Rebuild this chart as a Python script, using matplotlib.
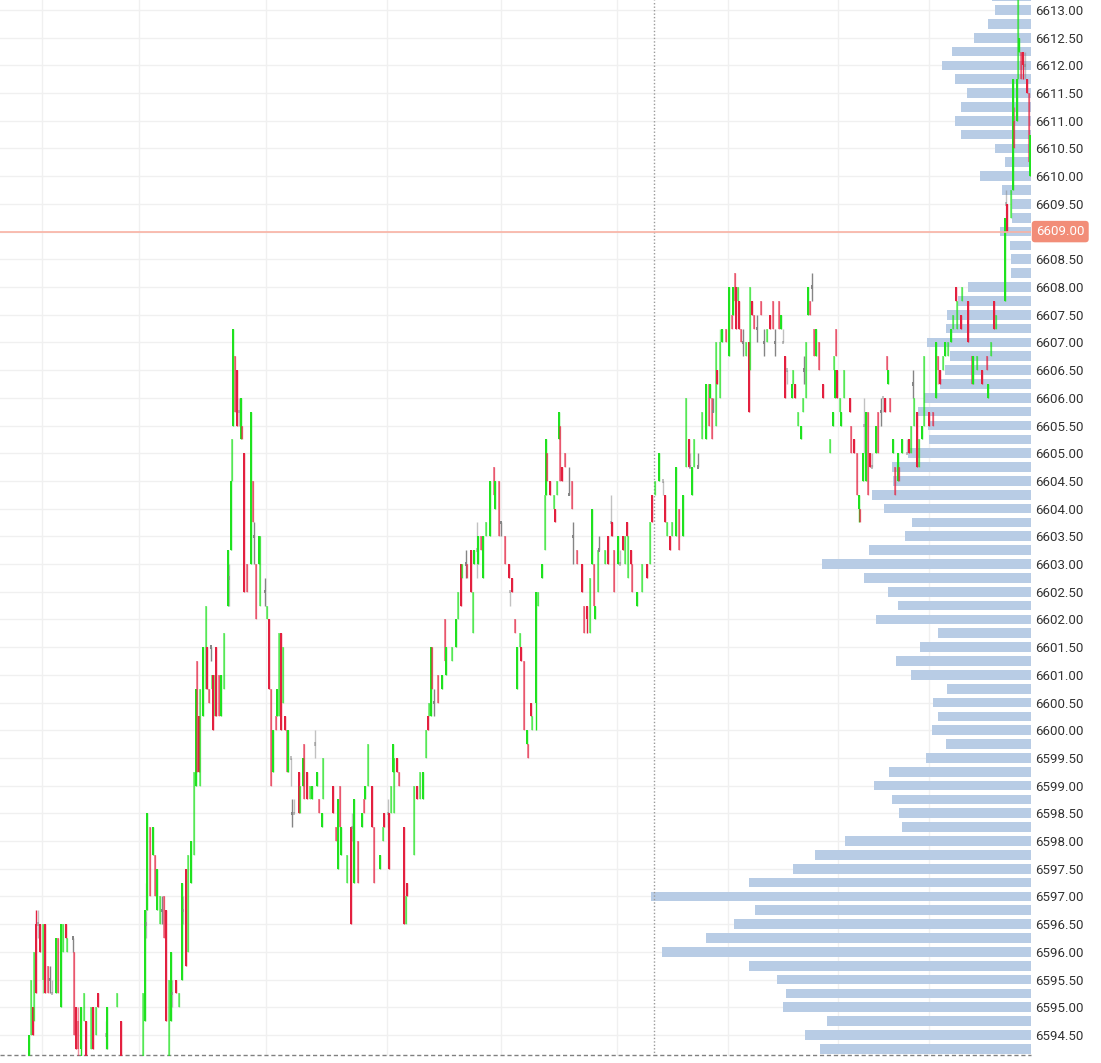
import numpy as np
import matplotlib
matplotlib.use("Agg")
import matplotlib.pyplot as plt
from matplotlib.colors import to_rgba
from matplotlib.transforms import blended_transform_factory

plt.rcParams['font.family'] = ['Roboto', 'DejaVu Sans']

# bar time (session ticks) and OHLC of each bar
bar_t = [
    29, 31, 33, 34, 36, 38, 40, 43, 45, 48,
    50, 52, 56, 58, 61, 63, 66, 67, 73, 74,
    76, 78, 81, 84, 86, 91, 93, 96, 98, 106,
    107, 117, 121, 143, 145, 146, 147, 150, 153, 155,
    157, 160, 162, 164, 166, 169, 171, 172, 176, 179,
    182, 183, 186, 188, 191, 194, 196, 197, 199, 200,
    203, 206, 207, 209, 211, 212, 213, 215, 216, 219,
    221, 224, 228, 229, 231, 232, 233, 235, 237, 239,
    241, 242, 244, 247, 251, 253, 254, 256, 259, 260,
    265, 267, 269, 271, 273, 276, 277, 279, 281, 283,
    285, 287, 288, 291, 292, 294, 299, 300, 303, 304,
    307, 310, 312, 315, 317, 319, 322, 323, 333, 336,
    338, 340, 341, 347, 351, 352, 354, 358, 362, 364,
    365, 368, 372, 374, 380, 383, 384, 388, 389, 391,
    393, 394, 397, 399, 404, 406, 407, 414, 417, 420,
    423, 426, 428, 429, 431, 432, 434, 438, 442, 445,
    446, 452, 456, 458, 461, 462, 466, 467, 471, 473,
    474, 477, 478, 481, 483, 486, 490, 494, 495, 499,
    501, 505, 509, 510, 512, 515, 517, 520, 521, 524,
    527, 528, 531, 532, 536, 538, 542, 545, 546, 547,
    550, 554, 555, 557, 559, 560, 562, 565, 569, 572,
    573, 577, 582, 584, 587, 590, 592, 594, 595, 598,
    599, 605, 608, 611, 612, 614, 618, 620, 623, 625,
    627, 628, 631, 632, 637, 642, 647, 650, 652, 655,
    659, 663, 665, 667, 670, 672, 676, 679, 683, 686,
    689, 690, 692, 694, 698, 702, 706, 709, 710, 712,
    713, 716, 717, 720, 722, 726, 729, 732, 733, 735,
    736, 738, 739, 741, 743, 746, 749, 750, 752, 754,
    757, 761, 764, 767, 770, 773, 775, 779, 781, 783,
    785, 787, 792, 793, 795, 798, 801, 803, 804, 806,
    808, 810, 812, 814, 816, 819, 823, 830, 833, 834,
    835, 836, 837, 840, 841, 844, 850, 851, 854, 857,
    859, 860, 863, 864, 866, 868, 870, 872, 876, 878,
    881, 883, 885, 887, 888, 890, 893, 895, 898, 899,
    902, 907, 909, 911, 913, 914, 917, 919, 922, 924,
    929, 933, 936, 938, 940, 943, 945, 948, 951, 953,
    956, 957, 961, 962, 968, 972, 973, 977, 982, 987,
    988, 991, 994, 996, 1005, 1006, 1007, 1011, 1013, 1014,
    1017, 1018, 1019, 1021, 1023, 1025, 1027, 1029, 1030]

bar_open = [
    6594.00, 6594.50, 6595.00, 6594.75, 6596.50, 6596.50, 6596.50, 6595.50, 6596.50, 6595.75,
    6595.50, 6595.25, 6595.25, 6596.25, 6595.00, 6596.00, 6596.50, 6596.00, 6596.25, 6596.00,
    6595.00, 6594.75, 6594.25, 6594.75, 6594.75, 6594.25, 6595.00, 6594.50, 6595.25, 6594.50,
    6594.25, 6595.00, 6594.75, 6594.00, 6594.75, 6596.50, 6596.75, 6598.25, 6597.75, 6597.75,
    6596.75, 6596.50, 6596.75, 6597.00, 6596.75, 6594.00, 6594.75, 6595.25, 6595.50, 6595.00,
    6595.50, 6596.75, 6597.50, 6596.00, 6597.25, 6597.75, 6599.00, 6601.25, 6600.25, 6599.00,
    6600.25, 6600.75, 6601.50, 6600.75, 6601.50, 6600.75, 6601.00, 6600.25, 6601.50, 6601.00,
    6600.25, 6600.75, 6602.25, 6602.75, 6603.25, 6604.50, 6605.50, 6606.75, 6606.50, 6605.75,
    6605.25, 6605.50, 6605.00, 6603.00, 6603.00, 6604.50, 6603.50, 6603.00, 6603.00, 6602.25,
    6602.50, 6602.00, 6602.00, 6600.75, 6599.25, 6600.25, 6600.25, 6600.25, 6601.75, 6600.50,
    6600.25, 6600.00, 6599.25, 6599.50, 6598.50, 6598.50, 6599.25, 6598.50, 6599.00, 6599.75,
    6599.25, 6598.75, 6598.75, 6599.75, 6599.00, 6598.75, 6598.25, 6598.75, 6599.00, 6598.25,
    6597.50, 6599.00, 6597.75, 6597.25, 6598.25, 6598.25, 6597.25, 6598.00, 6598.25, 6598.75,
    6598.75, 6599.00, 6599.00, 6598.25, 6597.50, 6598.00, 6598.50, 6598.50, 6598.50, 6598.50,
    6599.25, 6598.50, 6599.50, 6599.25, 6598.25, 6596.50, 6597.25, 6597.75, 6599.00, 6598.75,
    6598.75, 6599.50, 6600.25, 6600.25, 6600.25, 6601.50, 6600.50, 6601.00, 6600.75, 6602.00,
    6601.00, 6601.25, 6601.50, 6602.00, 6603.00, 6602.75, 6603.00, 6603.00, 6603.25, 6601.75,
    6603.00, 6603.25, 6603.00, 6603.50, 6602.75, 6603.50, 6603.50, 6604.75, 6604.00, 6604.50,
    6603.75, 6603.50, 6603.00, 6602.50, 6602.75, 6602.00, 6600.75, 6601.50, 6601.50, 6601.25,
    6599.75, 6599.75, 6600.50, 6600.00, 6600.50, 6602.25, 6602.75, 6603.25, 6604.25, 6605.00,
    6604.50, 6604.00, 6604.00, 6604.25, 6605.25, 6605.50, 6604.75, 6605.00, 6604.25, 6604.50,
    6603.50, 6603.25, 6603.00, 6602.25, 6602.25, 6601.75, 6603.00, 6603.00, 6602.00, 6602.50,
    6603.25, 6603.00, 6603.50, 6603.75, 6603.75, 6603.25, 6603.00, 6603.00, 6603.50, 6603.00,
    6603.75, 6602.75, 6603.25, 6603.00, 6602.25, 6602.50, 6603.00, 6603.00, 6604.25, 6604.25,
    6604.50, 6604.50, 6604.25, 6603.50, 6603.50, 6603.50, 6603.50, 6604.00, 6603.50, 6604.75,
    6605.25, 6604.75, 6604.25, 6604.75, 6604.75, 6605.25, 6605.25, 6606.25, 6606.00, 6606.00,
    6605.75, 6605.50, 6606.50, 6606.00, 6607.00, 6607.25, 6606.75, 6607.50, 6607.50, 6608.25,
    6608.00, 6607.75, 6607.75, 6607.25, 6607.00, 6606.75, 6607.00, 6606.50, 6607.75, 6607.50,
    6607.25, 6607.75, 6607.00, 6607.00, 6607.50, 6607.75, 6607.00, 6607.75, 6607.25, 6607.00,
    6606.75, 6606.50, 6606.00, 6606.25, 6606.25, 6605.50, 6605.25, 6605.75, 6606.50, 6606.00,
    6607.50, 6607.75, 6608.00, 6607.25, 6606.75, 6607.00, 6606.25, 6605.00, 6605.50, 6606.50,
    6606.00, 6607.25, 6606.50, 6605.75, 6605.50, 6606.00, 6606.00, 6605.50, 6605.25, 6605.00,
    6604.00, 6604.00, 6604.50, 6605.50, 6604.50, 6605.75, 6605.00, 6604.75, 6605.00, 6605.75,
    6605.75, 6606.00, 6606.00, 6606.75, 6606.25, 6606.00, 6605.00, 6604.75, 6604.50, 6604.75,
    6605.00, 6605.00, 6605.25, 6605.00, 6606.25, 6605.50, 6605.75, 6604.75, 6605.25, 6605.50,
    6605.75, 6605.75, 6606.00, 6606.75, 6606.50, 6606.50, 6606.75, 6606.75, 6607.00, 6607.25,
    6608.00, 6607.25, 6607.50, 6607.75, 6607.75, 6606.75, 6606.25, 6606.50, 6606.50, 6606.75,
    6606.00, 6606.75, 6607.75, 6607.25, 6607.75, 6609.50, 6609.50, 6609.25, 6609.75, 6611.00,
    6611.00, 6611.75, 6612.25, 6612.25, 6612.25, 6612.00, 6611.75, 6611.50, 6610.00]

bar_high = [
    6594.50, 6595.50, 6595.00, 6596.00, 6596.75, 6596.75, 6596.50, 6596.50, 6596.50, 6595.75,
    6595.75, 6595.50, 6596.25, 6596.25, 6596.50, 6596.50, 6596.50, 6596.25, 6596.25, 6596.00,
    6595.00, 6595.00, 6595.00, 6595.25, 6594.75, 6595.00, 6595.00, 6595.00, 6595.25, 6594.75,
    6595.00, 6595.25, 6594.75, 6595.25, 6596.75, 6597.25, 6598.50, 6598.25, 6598.25, 6597.75,
    6597.50, 6597.00, 6597.00, 6597.00, 6596.75, 6595.50, 6596.00, 6595.50, 6595.50, 6595.25,
    6597.25, 6597.00, 6597.50, 6597.75, 6598.00, 6599.25, 6600.75, 6601.25, 6600.25, 6600.75,
    6601.50, 6602.25, 6601.50, 6600.75, 6601.50, 6601.00, 6601.00, 6601.00, 6601.50, 6601.00,
    6601.00, 6601.75, 6603.25, 6603.00, 6604.50, 6605.25, 6607.25, 6606.75, 6606.50, 6606.00,
    6606.00, 6605.50, 6605.00, 6603.00, 6605.75, 6604.50, 6603.75, 6603.00, 6603.50, 6603.50,
    6602.75, 6602.25, 6602.00, 6600.75, 6600.00, 6600.25, 6600.75, 6601.75, 6601.75, 6601.50,
    6600.25, 6600.00, 6600.00, 6599.50, 6598.75, 6598.75, 6599.25, 6599.00, 6599.50, 6599.75,
    6599.25, 6599.00, 6599.00, 6600.00, 6599.25, 6598.75, 6598.50, 6599.50, 6599.00, 6598.25,
    6598.75, 6599.00, 6598.25, 6597.75, 6598.25, 6598.50, 6598.75, 6598.00, 6598.50, 6598.75,
    6599.00, 6599.75, 6599.00, 6598.25, 6597.75, 6598.25, 6598.50, 6598.75, 6598.50, 6599.00,
    6599.75, 6599.50, 6599.50, 6599.25, 6598.25, 6597.00, 6597.25, 6599.00, 6599.00, 6599.25,
    6599.25, 6600.00, 6600.25, 6600.50, 6601.50, 6601.50, 6600.75, 6601.00, 6601.00, 6602.00,
    6601.50, 6601.50, 6602.00, 6602.50, 6603.00, 6603.00, 6603.25, 6603.00, 6603.25, 6602.50,
    6603.25, 6603.75, 6603.50, 6603.50, 6603.50, 6603.75, 6604.50, 6604.75, 6604.50, 6604.50,
    6603.75, 6603.50, 6603.00, 6602.50, 6602.75, 6602.00, 6601.50, 6601.75, 6601.50, 6601.25,
    6600.00, 6599.75, 6600.50, 6600.25, 6602.50, 6602.50, 6603.00, 6604.25, 6605.25, 6605.00,
    6604.50, 6604.25, 6604.00, 6604.50, 6605.75, 6605.50, 6604.75, 6605.00, 6604.75, 6604.50,
    6603.75, 6603.25, 6603.00, 6602.25, 6602.25, 6602.75, 6604.00, 6603.00, 6602.25, 6603.25,
    6603.50, 6603.25, 6603.50, 6604.25, 6603.75, 6603.25, 6603.50, 6603.25, 6603.50, 6603.50,
    6603.75, 6603.50, 6603.25, 6603.00, 6602.50, 6603.00, 6603.00, 6603.75, 6604.25, 6604.50,
    6605.00, 6604.50, 6604.25, 6603.75, 6603.50, 6603.75, 6604.75, 6604.00, 6604.25, 6606.00,
    6605.25, 6605.00, 6604.75, 6605.25, 6605.00, 6605.75, 6606.25, 6606.25, 6606.25, 6606.00,
    6606.00, 6607.00, 6606.50, 6607.25, 6607.25, 6607.25, 6608.00, 6607.50, 6608.00, 6608.25,
    6608.00, 6608.00, 6607.75, 6607.25, 6607.25, 6607.00, 6607.00, 6608.00, 6607.75, 6607.50,
    6607.50, 6607.75, 6607.25, 6607.25, 6607.50, 6607.75, 6607.25, 6607.75, 6607.50, 6607.25,
    6606.75, 6606.50, 6606.25, 6606.50, 6606.25, 6605.75, 6605.50, 6606.00, 6606.75, 6607.00,
    6608.00, 6607.75, 6608.25, 6607.25, 6607.25, 6607.00, 6606.25, 6605.25, 6605.75, 6606.75,
    6606.50, 6607.25, 6606.50, 6606.00, 6605.75, 6606.50, 6606.00, 6605.50, 6605.25, 6605.00,
    6604.25, 6604.00, 6605.00, 6606.00, 6605.75, 6605.75, 6605.00, 6605.00, 6605.50, 6605.75,
    6606.00, 6606.00, 6606.00, 6606.75, 6606.50, 6606.00, 6605.25, 6604.75, 6605.00, 6604.75,
    6605.25, 6605.25, 6605.25, 6605.50, 6606.50, 6606.00, 6605.75, 6605.25, 6605.50, 6606.75,
    6605.75, 6605.75, 6607.00, 6606.75, 6606.50, 6606.75, 6607.00, 6607.00, 6607.25, 6607.50,
    6608.00, 6607.75, 6607.50, 6608.00, 6607.75, 6606.75, 6606.75, 6606.75, 6606.50, 6606.75,
    6606.25, 6607.00, 6607.75, 6607.50, 6609.25, 6609.75, 6609.50, 6609.75, 6611.75, 6611.25,
    6611.75, 6613.50, 6612.50, 6612.25, 6612.25, 6612.25, 6611.75, 6611.50, 6610.75]

bar_low = [
    6594.00, 6594.50, 6594.50, 6594.75, 6595.25, 6596.25, 6596.00, 6595.25, 6595.25, 6595.25,
    6595.25, 6595.25, 6595.25, 6595.25, 6595.00, 6596.00, 6596.25, 6596.00, 6596.00, 6594.50,
    6594.25, 6594.00, 6594.00, 6594.75, 6594.00, 6594.25, 6594.25, 6594.50, 6595.00, 6594.25,
    6594.25, 6595.00, 6594.00, 6594.00, 6594.75, 6596.25, 6596.75, 6597.00, 6597.75, 6597.00,
    6596.75, 6596.50, 6596.50, 6596.25, 6594.75, 6594.00, 6594.75, 6595.00, 6595.25, 6595.00,
    6595.50, 6596.50, 6595.75, 6596.00, 6597.25, 6597.75, 6599.00, 6599.25, 6599.25, 6599.00,
    6600.25, 6600.75, 6600.75, 6600.50, 6601.25, 6600.75, 6600.00, 6600.25, 6600.25, 6600.25,
    6600.25, 6600.75, 6602.25, 6602.25, 6603.25, 6604.50, 6605.50, 6605.75, 6605.50, 6605.50,
    6605.25, 6605.25, 6602.50, 6602.50, 6603.00, 6603.75, 6603.00, 6602.00, 6603.00, 6602.25,
    6602.25, 6602.00, 6600.75, 6599.00, 6599.25, 6600.00, 6600.25, 6600.25, 6600.00, 6600.50,
    6600.00, 6599.25, 6599.25, 6599.00, 6598.25, 6598.50, 6598.50, 6598.50, 6599.00, 6598.75,
    6598.75, 6598.75, 6598.75, 6599.50, 6599.00, 6598.50, 6598.25, 6598.75, 6598.50, 6598.00,
    6597.50, 6598.25, 6597.75, 6597.25, 6596.50, 6598.00, 6597.25, 6597.25, 6598.25, 6598.50,
    6598.75, 6599.00, 6598.25, 6597.25, 6597.50, 6598.00, 6598.25, 6598.25, 6597.50, 6598.50,
    6599.25, 6598.50, 6599.25, 6599.00, 6596.50, 6596.50, 6597.00, 6597.75, 6598.75, 6598.75,
    6598.75, 6599.50, 6600.00, 6600.25, 6600.25, 6600.75, 6600.25, 6600.50, 6600.75, 6601.25,
    6601.00, 6601.25, 6601.50, 6602.00, 6602.25, 6602.75, 6602.75, 6602.75, 6602.50, 6601.75,
    6603.00, 6602.75, 6603.00, 6603.25, 6602.75, 6603.50, 6603.50, 6604.25, 6604.00, 6603.50,
    6603.50, 6603.00, 6602.75, 6602.25, 6602.50, 6601.75, 6600.75, 6601.50, 6601.25, 6600.00,
    6599.75, 6599.50, 6600.25, 6600.00, 6600.00, 6602.25, 6602.75, 6603.25, 6604.25, 6604.50,
    6604.25, 6604.00, 6603.75, 6604.25, 6605.25, 6604.50, 6604.50, 6604.75, 6604.25, 6604.00,
    6603.00, 6603.00, 6602.50, 6601.75, 6601.75, 6601.75, 6603.00, 6602.25, 6602.00, 6602.50,
    6603.25, 6603.00, 6603.00, 6603.50, 6603.50, 6602.50, 6603.00, 6603.00, 6603.25, 6603.00,
    6603.50, 6602.75, 6603.00, 6602.50, 6602.25, 6602.50, 6602.75, 6603.00, 6603.75, 6604.25,
    6604.50, 6604.25, 6603.75, 6603.50, 6603.25, 6603.50, 6603.50, 6603.25, 6603.50, 6604.75,
    6604.75, 6604.75, 6604.25, 6604.75, 6604.75, 6605.25, 6605.25, 6605.50, 6606.00, 6605.25,
    6605.75, 6605.50, 6606.25, 6606.00, 6607.00, 6607.00, 6606.75, 6607.25, 6607.50, 6607.75,
    6607.25, 6607.75, 6607.25, 6607.00, 6606.75, 6606.75, 6605.75, 6606.50, 6607.50, 6607.25,
    6607.00, 6607.50, 6606.75, 6607.00, 6607.25, 6607.25, 6606.75, 6607.25, 6607.25, 6607.00,
    6606.00, 6606.25, 6606.00, 6606.25, 6606.00, 6605.50, 6605.25, 6605.75, 6606.25, 6606.00,
    6607.50, 6607.50, 6607.75, 6606.75, 6606.75, 6606.50, 6606.00, 6605.00, 6605.50, 6606.50,
    6606.00, 6606.75, 6606.00, 6605.75, 6605.50, 6606.00, 6605.75, 6605.00, 6605.00, 6604.25,
    6603.75, 6603.75, 6604.50, 6605.00, 6604.50, 6604.25, 6604.75, 6604.75, 6605.00, 6605.00,
    6605.50, 6605.75, 6605.75, 6606.50, 6606.25, 6605.75, 6605.00, 6604.25, 6604.50, 6604.50,
    6605.00, 6605.00, 6605.00, 6605.00, 6606.00, 6605.50, 6604.75, 6604.75, 6605.25, 6605.50,
    6605.50, 6605.50, 6606.00, 6606.25, 6606.25, 6606.50, 6606.75, 6606.75, 6607.00, 6607.25,
    6607.75, 6607.25, 6607.25, 6607.75, 6607.00, 6606.25, 6606.25, 6606.50, 6606.25, 6606.50,
    6606.00, 6606.75, 6607.25, 6607.25, 6607.75, 6609.25, 6609.00, 6609.25, 6609.75, 6610.50,
    6611.00, 6611.75, 6612.25, 6611.75, 6611.75, 6611.75, 6611.50, 6610.25, 6610.00]

bar_close = [
    6594.50, 6595.50, 6594.50, 6596.00, 6595.25, 6596.50, 6596.00, 6596.50, 6595.25, 6595.25,
    6595.50, 6595.25, 6596.25, 6595.25, 6596.50, 6596.50, 6596.25, 6596.25, 6596.25, 6594.50,
    6594.25, 6594.25, 6595.00, 6595.25, 6594.00, 6595.00, 6594.25, 6595.00, 6595.00, 6594.50,
    6595.00, 6595.25, 6594.00, 6595.25, 6596.75, 6596.50, 6598.50, 6597.00, 6598.25, 6597.00,
    6597.50, 6597.00, 6596.75, 6596.25, 6594.75, 6595.50, 6596.00, 6595.25, 6595.25, 6595.25,
    6597.25, 6596.75, 6595.75, 6597.75, 6598.00, 6599.25, 6600.75, 6599.25, 6599.25, 6600.75,
    6601.50, 6602.25, 6600.75, 6600.50, 6601.50, 6601.00, 6600.00, 6601.00, 6600.25, 6600.25,
    6601.00, 6601.75, 6603.25, 6602.75, 6604.50, 6605.25, 6607.25, 6605.75, 6605.50, 6605.75,
    6606.00, 6605.25, 6602.50, 6602.50, 6605.75, 6603.75, 6603.50, 6602.00, 6603.50, 6603.50,
    6602.50, 6602.25, 6600.75, 6599.00, 6600.00, 6600.00, 6600.75, 6601.75, 6600.00, 6601.50,
    6600.00, 6599.25, 6600.00, 6599.50, 6598.50, 6598.50, 6598.50, 6599.00, 6599.50, 6598.75,
    6598.75, 6599.00, 6599.00, 6599.75, 6599.25, 6598.50, 6598.50, 6599.50, 6598.50, 6598.00,
    6598.75, 6598.25, 6598.25, 6597.75, 6596.50, 6598.25, 6598.75, 6597.25, 6598.50, 6598.50,
    6599.00, 6599.75, 6598.25, 6597.25, 6597.75, 6598.25, 6598.25, 6598.50, 6597.50, 6599.00,
    6599.75, 6599.50, 6599.25, 6599.00, 6596.50, 6597.00, 6597.00, 6599.00, 6598.75, 6599.25,
    6599.25, 6600.00, 6600.00, 6600.50, 6601.50, 6600.75, 6600.50, 6600.50, 6601.00, 6601.25,
    6601.50, 6601.50, 6602.00, 6602.50, 6602.25, 6603.00, 6603.00, 6602.75, 6602.50, 6602.50,
    6603.25, 6603.25, 6603.50, 6603.25, 6603.50, 6603.75, 6604.50, 6604.25, 6604.50, 6603.50,
    6603.75, 6603.00, 6602.75, 6602.50, 6602.50, 6601.75, 6601.50, 6601.75, 6601.25, 6600.00,
    6600.00, 6599.50, 6600.25, 6600.25, 6602.50, 6602.50, 6603.00, 6604.25, 6605.25, 6604.50,
    6604.25, 6604.25, 6603.75, 6604.50, 6605.75, 6604.50, 6604.50, 6604.75, 6604.25, 6604.00,
    6603.50, 6603.00, 6602.50, 6601.75, 6602.00, 6602.75, 6604.00, 6602.25, 6602.25, 6603.25,
    6603.25, 6603.25, 6603.00, 6603.75, 6603.50, 6602.50, 6603.50, 6603.00, 6603.25, 6603.50,
    6603.50, 6603.50, 6603.00, 6602.50, 6602.50, 6603.00, 6602.75, 6603.75, 6603.75, 6604.50,
    6605.00, 6604.50, 6603.75, 6603.75, 6603.25, 6603.75, 6604.75, 6603.25, 6604.25, 6606.00,
    6604.75, 6604.75, 6604.75, 6605.25, 6604.75, 6605.75, 6606.25, 6605.50, 6606.25, 6605.25,
    6605.75, 6607.00, 6606.25, 6607.00, 6607.25, 6607.00, 6608.00, 6607.25, 6608.00, 6607.75,
    6607.25, 6608.00, 6607.25, 6607.00, 6607.00, 6607.00, 6605.75, 6608.00, 6607.50, 6607.25,
    6607.25, 6607.50, 6607.00, 6607.25, 6607.25, 6607.25, 6607.00, 6607.25, 6607.50, 6607.00,
    6606.00, 6606.50, 6606.25, 6606.50, 6606.00, 6605.75, 6605.50, 6606.00, 6606.50, 6607.00,
    6608.00, 6607.50, 6608.00, 6606.75, 6607.25, 6606.50, 6606.00, 6605.25, 6605.75, 6606.75,
    6606.50, 6606.75, 6606.00, 6606.00, 6605.75, 6606.50, 6605.75, 6605.00, 6605.00, 6604.25,
    6604.25, 6603.75, 6605.00, 6605.50, 6605.75, 6604.25, 6604.75, 6604.75, 6605.50, 6605.00,
    6605.75, 6606.00, 6605.75, 6606.50, 6606.50, 6605.75, 6605.25, 6604.25, 6605.00, 6604.50,
    6605.25, 6605.00, 6605.00, 6605.50, 6606.25, 6606.00, 6604.75, 6605.25, 6605.50, 6606.75,
    6605.50, 6605.50, 6607.00, 6606.50, 6606.25, 6606.75, 6607.00, 6607.00, 6607.25, 6607.50,
    6607.75, 6607.75, 6607.25, 6608.00, 6607.00, 6606.25, 6606.75, 6606.75, 6606.25, 6606.50,
    6606.25, 6607.00, 6607.25, 6607.50, 6609.25, 6609.50, 6609.00, 6609.75, 6611.75, 6610.50,
    6611.75, 6613.50, 6612.50, 6611.75, 6612.00, 6612.00, 6611.50, 6610.25, 6610.75]

# volume profile, one row per 0.25 price level, from 6594.25 upward
profile_price = np.arange(6594.25, 6613.26, 0.25)
profile_vol = [
    211, 226, 204, 248, 245, 254, 282, 369, 325, 297,
    276, 380, 282, 238, 216, 186, 129, 132, 139, 157,
    142, 105, 85, 99, 93, 98, 84, 120, 135, 111,
    93, 155, 133, 143, 167, 209, 162, 126, 119, 147,
    159, 138, 139, 123, 102, 103, 113, 107, 91, 86,
    81, 104, 85, 84, 73, 63, 20, 20, 21, 31,
    19, 19, 29, 51, 26, 36, 70, 76, 70, 64,
    76, 89, 79, 57, 43, 36, 39]

last_price = 6609.00
cursor_t = 654
time_grid = [42, 139, 266, 387, 501, 617, 728, 838, 929]

W, H = 1101, 1063
fig = plt.figure(figsize=(W / 100, H / 100), dpi=100)
ax = fig.add_axes([0, 7 / H, 1031 / W, 1056 / H])
ax.set_facecolor('white')
for s in ax.spines.values():
    s.set_visible(False)

# grid
ax.set_yticks(np.arange(6594.5, 6613.01, 0.5))
ax.set_xticks(time_grid)
ax.grid(True, color='#f0f0f0', lw=1, zorder=0)
ax.set_axisbelow(True)
ax.yaxis.tick_right()
ax.yaxis.set_major_formatter(plt.FormatStrFormatter('%.2f'))
ax.tick_params(axis='y', length=0, pad=2.9, labelsize=9.5, labelcolor='#333333')
ax.tick_params(axis='x', length=0, labelbottom=False)

# volume profile bars, anchored to the right edge
trans = blended_transform_factory(ax.transAxes, ax.transData)
vol = np.array(profile_vol, dtype=float)
frac = vol / vol.max() * 0.369
ax.barh(profile_price, frac, left=1 - frac, height=0.175, color='#b8cce5',
        transform=trans, zorder=1)

# crosshair and bottom border
ax.axvline(cursor_t, color='#9a9a9a', lw=1, ls=(0, (1, 1.5)), zorder=2)
ax.plot([0, 1], [0.001, 0.001], transform=ax.transAxes, color='#808080',
        lw=1, ls=(0, (3, 2)), zorder=2, clip_on=False)

# candles
t = np.array(bar_t, dtype=float)
o = np.array(bar_open)
hi = np.array(bar_high)
lo = np.array(bar_low)
cl = np.array(bar_close)
n = len(t)
cols = []
for i in range(n):
    if cl[i] > o[i]:
        base = '#1fe21f'
    elif cl[i] < o[i]:
        base = '#e3203f'
    else:
        base = '#858585'
    a = 1.0 if i % 2 == 0 else 0.5
    cols.append(to_rgba(base, a))

ax.vlines(t, lo, hi, colors=cols, lw=1, zorder=3)
body = np.maximum(np.abs(cl - o), 0.06)
ax.bar(t, body, bottom=np.minimum(o, cl) - np.where(cl == o, 0.03, 0), width=2.6,
       color=cols, zorder=3, linewidth=0)

# last price line and tag
ax.axhline(last_price, color='#f9b2a4', lw=1.2, zorder=4)
ax.text(1 + 5 / 1031, last_price, f'{last_price:.2f}', transform=trans,
        ha='left', va='center', fontsize=9.5, color='white', zorder=10,
        clip_on=False,
        bbox=dict(boxstyle='round,pad=0.32,rounding_size=0.25', fc='#f28d78', ec='none'))

ax.set_xlim(0, 1031)
ax.set_ylim(6594.12, 6613.18)

fig.savefig('out.png', dpi=100, facecolor='white')
